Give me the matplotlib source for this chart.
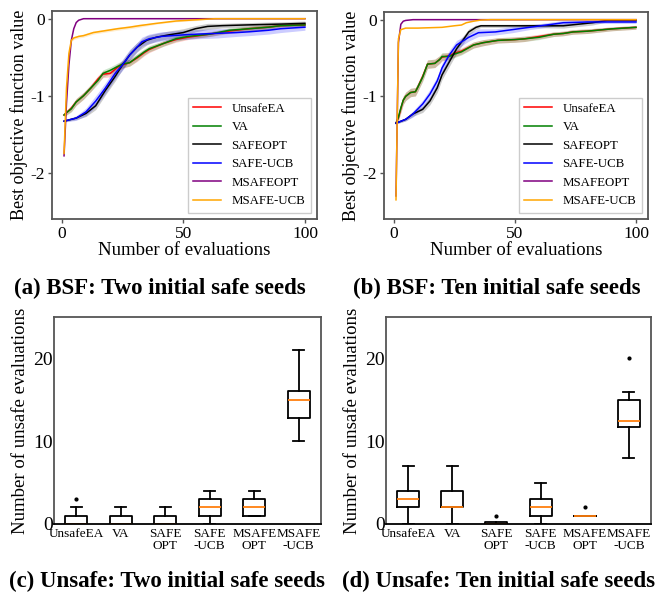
import matplotlib
matplotlib.use("Agg")
import matplotlib.pyplot as plt

plt.rcParams['font.family'] = ['Liberation Serif', 'DejaVu Serif']
plt.rcParams['axes.unicode_minus'] = False

#%% Data - (a) BSF, two initial safe seeds
a_x_unsafe = [1, 2, 4, 6, 9, 12, 15, 17, 20, 23, 25, 28, 31, 34, 36, 42, 47, 52, 61, 69, 77, 85, 90, 100]
a_unsafe   = [-1.25, -1.22, -1.16, -1.08, -1.0, -0.9, -0.78, -0.72, -0.71, -0.63, -0.6, -0.57,
              -0.51, -0.44, -0.4, -0.32, -0.27, -0.24, -0.2, -0.16, -0.13, -0.11, -0.09, -0.08]
a_va       = [-1.25, -1.22, -1.17, -1.08, -1.0, -0.9, -0.8, -0.71, -0.67, -0.62, -0.59, -0.57,
              -0.5, -0.43, -0.39, -0.32, -0.26, -0.23, -0.2, -0.15, -0.13, -0.11, -0.09, -0.08]
a_va_std   = [0.02, 0.03, 0.04, 0.045, 0.045, 0.045, 0.045, 0.045, 0.045, 0.045, 0.045, 0.045,
              0.045, 0.04, 0.04, 0.035, 0.035, 0.03, 0.03, 0.03, 0.03, 0.03, 0.02, 0.02]

a_x_safeopt = [1, 6, 10, 14, 18, 22, 25, 28, 31, 35, 39, 44, 50, 55, 60, 66, 77, 90, 100]
a_safeopt   = [-1.33, -1.29, -1.23, -1.13, -0.93, -0.75, -0.6, -0.47, -0.37, -0.28, -0.24,
               -0.21, -0.18, -0.13, -0.1, -0.09, -0.08, -0.07, -0.06]
a_safeopt_std = [0.01, 0.02, 0.04, 0.05, 0.06, 0.06, 0.06, 0.06, 0.06, 0.06, 0.05,
                 0.05, 0.05, 0.04, 0.04, 0.03, 0.03, 0.03, 0.03]

a_x_safeucb = [1, 6, 10, 14, 18, 22, 25, 28, 31, 33, 36, 41, 50, 56, 64, 72, 77, 85, 90, 100]
a_safeucb   = [-1.33, -1.29, -1.21, -1.07, -0.9, -0.71, -0.6, -0.47, -0.37, -0.3, -0.26,
               -0.23, -0.21, -0.2, -0.19, -0.18, -0.17, -0.15, -0.13, -0.11]
a_safeucb_std = [0.01, 0.03, 0.05, 0.07, 0.07, 0.07, 0.07, 0.07, 0.06, 0.06, 0.06,
                 0.06, 0.06, 0.06, 0.06, 0.05, 0.05, 0.05, 0.05, 0.04]

a_x_msafeopt = [1, 2, 3, 4, 5, 6, 7, 8, 9, 100]
a_msafeopt   = [-1.78, -1.1, -0.6, -0.28, -0.13, -0.05, -0.02, -0.01, 0.0, 0.0]

a_x_msafeucb = [1, 2, 3, 4, 5, 7, 9, 13, 17, 23, 28, 32, 39, 47, 55, 63, 100]
a_msafeucb   = [-1.75, -0.9, -0.45, -0.28, -0.25, -0.23, -0.22, -0.18, -0.16, -0.13, -0.11,
                -0.09, -0.06, -0.03, -0.015, 0.0, 0.0]
a_msafeucb_std = [0.02, 0.03, 0.03, 0.02, 0.02, 0.02, 0.02, 0.02, 0.02, 0.02, 0.02,
                  0.02, 0.01, 0.01, 0.01, 0.0, 0.0]

#%% Data - (b) BSF, ten initial safe seeds
b_x_unsafe = [1, 2, 3, 4, 5, 7, 9, 10, 12, 14, 17, 19, 20, 23, 25, 28, 33, 37, 43, 50, 54, 60,
              66, 70, 74, 80, 90, 100]
b_unsafe   = [-1.35, -1.28, -1.16, -1.05, -1.0, -0.95, -0.94, -0.88, -0.74, -0.58, -0.57, -0.52,
              -0.49, -0.47, -0.44, -0.41, -0.33, -0.3, -0.27, -0.26, -0.25, -0.22, -0.19, -0.18,
              -0.16, -0.15, -0.12, -0.1]
b_va       = [-1.35, -1.27, -1.15, -1.05, -1.0, -0.95, -0.94, -0.88, -0.75, -0.58, -0.57, -0.52,
              -0.48, -0.48, -0.45, -0.42, -0.33, -0.3, -0.27, -0.26, -0.25, -0.23, -0.19, -0.18,
              -0.16, -0.15, -0.12, -0.1]
b_va_std   = [0.02, 0.04, 0.055, 0.055, 0.055, 0.055, 0.055, 0.055, 0.055, 0.055, 0.055, 0.05,
              0.05, 0.045, 0.045, 0.04, 0.04, 0.04, 0.035, 0.035, 0.035, 0.03, 0.03, 0.03,
              0.03, 0.03, 0.025, 0.025]

b_x_safeopt = [1, 5, 8, 12, 15, 18, 20, 23, 26, 29, 31, 34, 36, 50, 70, 76, 82, 88, 100]
b_safeopt   = [-1.35, -1.3, -1.23, -1.17, -1.06, -0.89, -0.72, -0.55, -0.38, -0.25, -0.16,
               -0.1, -0.08, -0.08, -0.08, -0.06, -0.04, -0.01, -0.01]
b_safeopt_std = [0.01, 0.02, 0.03, 0.04, 0.05, 0.06, 0.06, 0.06, 0.06, 0.05, 0.04,
                 0.03, 0.02, 0.02, 0.03, 0.03, 0.03, 0.02, 0.02]

b_x_safeucb = [1, 5, 8, 12, 15, 18, 20, 23, 26, 29, 31, 35, 42, 49, 56, 63, 70, 80, 90, 100]
b_safeucb   = [-1.35, -1.3, -1.23, -1.1, -0.97, -0.8, -0.63, -0.46, -0.33, -0.27, -0.23,
               -0.17, -0.16, -0.13, -0.1, -0.07, -0.04, -0.03, -0.03, -0.03]
b_safeucb_std = [0.01, 0.02, 0.04, 0.05, 0.06, 0.06, 0.06, 0.06, 0.06, 0.05, 0.05,
                 0.05, 0.04, 0.04, 0.03, 0.03, 0.03, 0.02, 0.02, 0.02]

b_x_msafeopt = [1, 2, 3, 4, 5, 8, 100]
b_msafeopt   = [-2.3, -0.3, -0.06, -0.02, -0.01, 0.0, 0.0]

b_x_msafeucb = [1, 2, 3, 5, 10, 20, 25, 28, 30, 33, 36, 40, 100]
b_msafeucb   = [-2.35, -0.25, -0.13, -0.11, -0.11, -0.1, -0.08, -0.07, -0.04, -0.02, -0.005, 0.0, 0.0]

#%% Data - unsafe evaluation counts (box statistics)
box_labels = ['UnsafeEA', 'VA', 'SAFE\nOPT', 'SAFE\n-UCB', 'MSAFE\nOPT', 'MSAFE\n-UCB']

c_q1     = [0, 0, 0, 1, 1, 12.75]
c_med    = [0, 0, 0, 2, 2, 15]
c_q3     = [1, 1, 1, 3, 3, 16.1]
c_lo     = [0, 0, 0, 0, 1, 10]
c_hi     = [2, 2, 2, 4, 4, 21]
c_fliers = [[3], [], [], [], [], []]

d_q1     = [2, 2, 0, 1, 1, 11.75]
d_med    = [3, 2, 0, 2, 1, 12.5]
d_q3     = [4, 4, 0.25, 3, 1, 15]
d_lo     = [0, 0, 0, 0, 1, 8]
d_hi     = [7, 7, 0, 5, 1, 16]
d_fliers = [[], [], [1], [], [2], [20]]

captions = ['(a) BSF: Two initial safe seeds', '(b) BSF: Ten initial safe seeds',
            '(c) Unsafe: Two initial safe seeds', '(d) Unsafe: Ten initial safe seeds']

#%% Figure
W, H = 670, 596
fig = plt.figure(figsize=(W / 100, H / 100), dpi=100)

def px_axes(l, t, r, b):
    return fig.add_axes([l / W, 1 - b / H, (r - l) / W, (b - t) / H])

def style_axes(ax):
    for s in ax.spines.values():
        s.set_color('#555555')
        s.set_linewidth(1.3)
    ax.tick_params(color='#555555', length=3, width=1, pad=2)

def plot_bsf(ax, series):
    for x, y, std, color, label in series:
        ax.plot(x, y, color=color, lw=1.1, label=label)
        if std is not None:
            lo = [v - s for v, s in zip(y, std)]
            hi = [v + s for v, s in zip(y, std)]
            ax.fill_between(x, lo, hi, color=color, alpha=0.2, lw=0)
    ax.set_ylim(-2.6, 0.1)
    ax.set_yticks([0, -1, -2])
    ax.set_xticks([0, 50, 100])
    ax.tick_params(labelsize=12.5)
    ax.set_xlabel('Number of evaluations', fontsize=13.5, labelpad=0)
    ax.set_ylabel('Best objective function value', fontsize=13, labelpad=2)
    style_axes(ax)
    ax.legend(loc='lower right', fontsize=9.3, handlelength=2.2, framealpha=1,
              edgecolor='#cccccc', fancybox=False, borderaxespad=0.5)

ax_a = px_axes(52, 11, 317, 219)
plot_bsf(ax_a, [
    (a_x_unsafe, a_unsafe, a_va_std, 'red', 'UnsafeEA'),
    (a_x_unsafe, a_va, a_va_std, 'green', 'VA'),
    (a_x_safeopt, a_safeopt, a_safeopt_std, 'black', 'SAFEOPT'),
    (a_x_safeucb, a_safeucb, a_safeucb_std, 'blue', 'SAFE-UCB'),
    (a_x_msafeopt, a_msafeopt, None, 'purple', 'MSAFEOPT'),
    (a_x_msafeucb, a_msafeucb, a_msafeucb_std, 'orange', 'MSAFE-UCB'),
])

ax_b = px_axes(384, 12, 648, 219)
plot_bsf(ax_b, [
    (b_x_unsafe, b_unsafe, b_va_std, 'red', 'UnsafeEA'),
    (b_x_unsafe, b_va, b_va_std, 'green', 'VA'),
    (b_x_safeopt, b_safeopt, b_safeopt_std, 'black', 'SAFEOPT'),
    (b_x_safeucb, b_safeucb, b_safeucb_std, 'blue', 'SAFE-UCB'),
    (b_x_msafeopt, b_msafeopt, None, 'purple', 'MSAFEOPT'),
    (b_x_msafeucb, b_msafeucb, None, 'orange', 'MSAFE-UCB'),
])

def plot_box(ax, q1, med, q3, lo, hi, fliers):
    stats = []
    for i in range(len(box_labels)):
        stats.append(dict(q1=q1[i], med=med[i], q3=q3[i], whislo=lo[i], whishi=hi[i],
                          fliers=fliers[i], label=box_labels[i]))
    ax.bxp(stats, widths=0.5,
           boxprops=dict(color='black', lw=1.3),
           whiskerprops=dict(color='black', lw=1.3),
           capprops=dict(color='black', lw=1.3),
           medianprops=dict(color='#ff7f0e', lw=1.3),
           flierprops=dict(marker='o', markersize=2, markerfacecolor='black',
                           markeredgecolor='black'))
    ax.set_ylim(0, 25)
    ax.set_yticks([0, 10, 20])
    style_axes(ax)
    ax.spines['bottom'].set_color('black')
    ax.tick_params(axis='y', labelsize=14, length=0, pad=1)
    ax.tick_params(axis='x', labelsize=9.5, length=0, pad=3)
    for t in ax.get_xticklabels():
        t.set_linespacing(0.95)
    ax.set_ylabel('Number of unsafe evaluations', fontsize=13.5, labelpad=3)

ax_c = px_axes(54, 317, 321, 524)
plot_box(ax_c, c_q1, c_med, c_q3, c_lo, c_hi, c_fliers)

ax_d = px_axes(386, 317, 651, 524)
plot_box(ax_d, d_q1, d_med, d_q3, d_lo, d_hi, d_fliers)

#%% Captions
for (cx, cy), txt in zip([(160, 288), (497, 288), (167, 581), (498, 581)], captions):
    fig.text(cx / W, 1 - cy / H, txt, ha='center', va='center', fontsize=16.5,
             fontweight='bold')

fig.savefig('out.png', dpi=100)
